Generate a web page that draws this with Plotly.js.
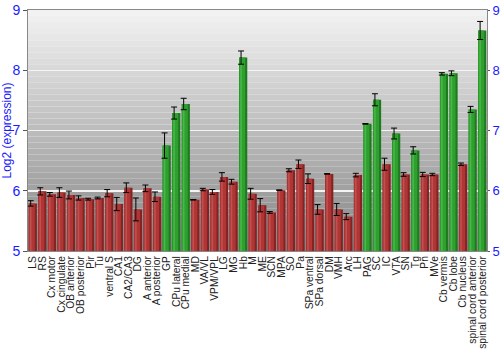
<!DOCTYPE html>
<html>
<head>
<meta charset="utf-8">
<script src="https://cdn.plot.ly/plotly-3.0.1.min.js"></script>
<style>html,body{margin:0;padding:0;background:#fff;}#chart{width:500px;height:350px;}</style>
</head>
<body>
<div id="chart"></div>
<script>
const regions = ["LS","RS","Cx motor","Cx cingulate","OB anterior","OB posterior","Pir","Tu","ventral S","CA1","CA2/CA3","DG","A anterior","A posterior","GP","CPu lateral","CPu medial","MD","VA/VL","VPM/VPL","LG","MG","Hb","M","ME","SCN","MPA","SO","Pa","SPa ventral","SPa dorsal","DM","VMH","Arc","LH","PAG","SC","IC","VTA","SN","Tg","Pn","MVe","Cb vermis","Cb lobe","Cb nucleus","spinal cord anterior","spinal cord posterior"];
const expression = [5.79,5.99,5.94,5.97,5.93,5.88,5.86,5.88,5.96,5.78,6.05,5.69,6.04,5.90,6.75,7.29,7.44,5.85,6.02,5.98,6.23,6.15,8.21,5.95,5.76,5.64,6.01,6.34,6.44,6.20,5.69,6.28,5.69,5.57,6.26,7.11,7.51,6.44,6.95,6.27,6.67,6.27,6.27,7.94,7.95,6.44,7.35,8.66];
const stdError = [0.045,0.06,0.03,0.08,0.065,0.035,0.015,0.015,0.06,0.11,0.08,0.19,0.055,0.08,0.21,0.10,0.095,0.005,0.02,0.04,0.07,0.04,0.11,0.09,0.11,0.015,0.005,0.025,0.07,0.08,0.08,0.005,0.10,0.05,0.03,0.005,0.10,0.10,0.09,0.03,0.06,0.035,0.02,0.02,0.04,0.02,0.05,0.15];
const enriched = ["GP","CPu lateral","CPu medial","Hb","PAG","SC","VTA","Tg","Cb vermis","Cb lobe","spinal cord anterior","spinal cord posterior"];

const isHigh = regions.map(r => enriched.includes(r));
const pick = (g, r) => isHigh.map(h => h ? g : r);

const traces = [
  {type:'bar', x:regions, y:expression, width:0.86,
   marker:{color:pick('#1e7a1e','#852222')}, hoverinfo:'skip', showlegend:false},
  {type:'bar', x:regions, y:expression, width:0.62, offset:-0.41,
   marker:{color:pick('#2fa02f','#b03636')}, hoverinfo:'skip', showlegend:false},
  {type:'bar', x:regions, y:expression, width:0.16, offset:-0.30,
   marker:{color:pick('#48b848','#c25050')}, showlegend:false,
   error_y:{type:'data', array:stdError, visible:true, color:'#000', thickness:1, width:3}},
  {type:'scatter', x:[regions[0]], y:[expression[0]], yaxis:'y2', mode:'markers',
   marker:{opacity:0}, hoverinfo:'skip', showlegend:false}
];

const shapes = [];
const N = 40;
for (let i = 0; i < N; i++) {
  const t = i / (N - 1);
  const c = Math.round(0x86 + (0xf2 - 0x86) * t);
  shapes.push({type:'rect', xref:'paper', yref:'paper', x0:0, x1:1, y0:i/N, y1:(i+1)/N,
    fillcolor:`rgb(${c},${c},${c})`, line:{width:0}, layer:'below'});
}

const layout = {
  width:500, height:350,
  margin:{l:28, r:13, t:10, b:99, pad:0},
  paper_bgcolor:'#fff', plot_bgcolor:'rgba(0,0,0,0)',
  barmode:'overlay', bargap:0.15,
  font:{family:'Liberation Sans, Arial, sans-serif', color:'#222'},
  shapes:shapes,
  xaxis:{tickmode:'array', tickvals:regions, ticktext:regions, tickangle:-90,
    tickfont:{size:10.3, color:'#222'}, showline:true, linecolor:'#888', mirror:true,
    ticks:'', showgrid:false, automargin:false, range:[-0.5, regions.length-0.5]},
  yaxis:{range:[5,9], dtick:1, tickfont:{size:14, color:'#1a1aff'}, gridcolor:'#f4f4f4', gridwidth:1.5,
    showline:true, linecolor:'#888', ticks:'outside', ticklen:4, tickcolor:'#555', zeroline:false,
    title:{text:'Log2 (expression)', font:{size:12, color:'#1a1aff'}, standoff:4}, automargin:false},
  yaxis2:{range:[5,9], dtick:1, overlaying:'y', side:'right', tickfont:{size:13, color:'#1a1aff'},
    showgrid:false, showline:true, linecolor:'#888', ticks:'outside', ticklen:2, tickcolor:'#555',
    ticklabelstandoff:0, zeroline:false, automargin:false}
};

Plotly.newPlot('chart', traces, layout, {displayModeBar:false, staticPlot:true});
</script>
</body>
</html>
